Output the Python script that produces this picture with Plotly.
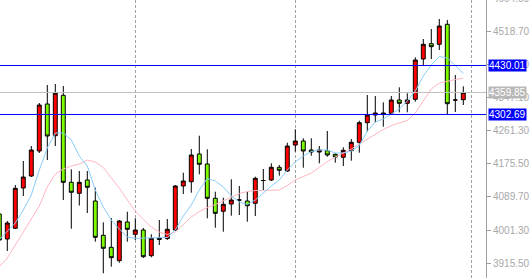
import plotly.graph_objects as go

# ---- data (prices) ----
bars = list(range(59))
opens = [4043.9, 3978.9, 4006.7, 4111.5, 4142.7, 4207.7, 4329.9, 4247.5, 4352.5, 4126.3,
         4097.7, 4132.3, 4077.7, 3988.5, 3957.3, 3922.5, 4023.1, 3991.1, 4002.3, 3935.5,
         3977.6, 3980.2, 4002.3, 4116.7, 4127.9, 4199.9, 4173.9, 4084.7, 4051.0, 4069.9,
         4080.3, 4077.7, 4071.7, 4131.0, 4132.3, 4165.3, 4155.7, 4223.3, 4233.7, 4210.3,
         4205.1, 4208.5, 4199.1, 4191.3, 4208.5, 4230.3, 4281.3, 4301.3, 4302.6, 4305.7,
         4340.3, 4331.7, 4342.1, 4446.9, 4486.7, 4485.1, 4537.1, 4340.3, 4341.1]
highs = [4049.1, 4025.7, 4119.3, 4181.7, 4220.7, 4332.5, 4379.3, 4381.9, 4376.7, 4160.1,
         4155.7, 4155.7, 4112.3, 4022.3, 4033.5, 4028.3, 4049.9, 4032.7, 4007.5, 3991.1,
         4028.3, 4030.9, 4119.3, 4151.3, 4212.9, 4247.5, 4212.1, 4101.9, 4086.3, 4134.1,
         4116.7, 4101.1, 4140.9, 4160.9, 4175.7, 4171.3, 4229.3, 4264.1, 4240.7, 4240.7,
         4220.7, 4259.7, 4201.7, 4217.3, 4238.9, 4286.5, 4353.3, 4350.7, 4334.3, 4350.7,
         4373.3, 4357.7, 4451.3, 4498.9, 4524.9, 4550.9, 4548.3, 4405.3, 4375.9]
lows = [3971.1, 3947.7, 4004.9, 4090.7, 4140.1, 4202.5, 4184.3, 4220.7, 4080.3, 4005.7,
        4066.0, 4046.5, 3971.9, 3889.7, 3906.9, 3917.3, 3971.9, 3976.3, 3929.5, 3931.3,
        3963.3, 3976.3, 3999.7, 4095.9, 4099.3, 4147.1, 4032.7, 4008.3, 3997.9, 4039.5,
        4041.3, 4023.9, 4038.7, 4106.3, 4129.7, 4143.5, 4153.1, 4205.9, 4164.3, 4195.5,
        4175.7, 4192.9, 4177.3, 4168.7, 4182.5, 4203.3, 4257.9, 4282.3, 4270.9, 4301.3,
        4308.3, 4308.3, 4335.9, 4431.3, 4446.9, 4470.3, 4303.9, 4309.1, 4327.3]
closes = [3976.3, 4020.5, 4110.7, 4140.1, 4210.3, 4327.3, 4246.7, 4357.7, 4126.3, 4100.3,
          4126.3, 4113.3, 3983.3, 3954.7, 3930.3, 4025.7, 4004.1, 4002.3, 3932.9, 3980.7,
          3981.5, 4004.1, 4116.7, 4129.7, 4197.3, 4173.1, 4084.7, 4045.7, 4069.1, 4080.3,
          4080.3, 4065.5, 4136.7, 4131.0, 4165.3, 4157.5, 4220.7, 4233.7, 4207.7, 4205.1,
          4210.3, 4197.3, 4192.1, 4209.5, 4230.3, 4281.3, 4301.3, 4306.5, 4306.5, 4340.3,
          4331.7, 4340.3, 4444.3, 4485.1, 4478.9, 4532.7, 4330.7, 4340.3, 4359.85]
ma_fast = [3977.6, 3999.7, 4020.5, 4054.3, 4093.3, 4158.3, 4215.5, 4254.5, 4254.5, 4236.3,
           4194.7, 4168.7, 4106.3, 4062.1, 4028.3, 4004.9, 3984.1, 3980.7, 3981.5, 3981.5,
           3981.5, 3982.8, 4002.3, 4038.7, 4067.3, 4106.3, 4136.2, 4129.7, 4114.1, 4090.7,
           4075.1, 4068.6, 4080.3, 4098.5, 4116.7, 4132.3, 4158.3, 4179.1, 4194.7, 4206.4,
           4210.3, 4210.3, 4202.5, 4202.5, 4207.7, 4222.0, 4259.7, 4283.1, 4290.9, 4303.9,
           4316.9, 4337.7, 4363.7, 4402.7, 4431.3, 4453.4, 4449.5, 4430.0, 4409.2]
ma_slow = [3906.9, 3929.5, 3963.3, 3997.1, 4030.9, 4064.7, 4114.1, 4147.9, 4160.9, 4168.7,
           4173.9, 4184.3, 4179.1, 4164.8, 4137.5, 4111.5, 4080.3, 4051.7, 4029.6, 4010.1,
           3997.1, 3990.6, 3997.1, 4017.9, 4036.1, 4050.4, 4060.8, 4068.6, 4077.7, 4088.1,
           4097.2, 4102.4, 4105.0, 4105.0, 4105.0, 4106.3, 4118.0, 4132.3, 4141.4, 4150.5,
           4164.8, 4180.4, 4192.1, 4202.5, 4212.9, 4225.9, 4238.9, 4250.6, 4263.6, 4274.0,
           4280.5, 4287.0, 4306.5, 4337.7, 4368.9, 4384.5, 4389.7, 4393.6, 4396.7]
tick_vals = [4518.70, 4432.90, 4347.10, 4261.30, 4175.50, 4089.70, 4001.30, 3915.50]
tick_text = ["4518.70", "4432.90", "4347.10", "4261.30", "4175.50", "4089.70", "4001.30", "3915.50"]
top_tick_val = 4604.50
top_tick_text = "4604.50"
level_prices = [4430.01, 4302.69]
level_text = ["4430.01", "4302.69"]
bid_price = 4359.85
bid_text = "4359.85"
grid_bars = [17, 37, 59]

Y_RANGE = [3877.5, 4600.3]
X_RANGE = [0.0875, 60.8375]

AX_GRAY = "#a0a0a0"
LABEL_GRAY = "#a8a8a8"
FONT = "Liberation Sans"

fig = go.Figure()
fig.add_trace(go.Candlestick(
    x=bars, open=opens, high=highs, low=lows, close=closes,
    increasing=dict(fillcolor="#ff0000", line=dict(color="#000000", width=1)),
    decreasing=dict(fillcolor="#7cfc00", line=dict(color="#000000", width=1)),
    whiskerwidth=0, hoverinfo="skip", showlegend=False,
))
fig.add_trace(go.Scatter(x=bars, y=ma_slow, mode="lines",
                         line=dict(color="#ffb6c1", width=1), hoverinfo="skip", showlegend=False))
fig.add_trace(go.Scatter(x=bars, y=ma_fast, mode="lines",
                         line=dict(color="#87cefa", width=1), hoverinfo="skip", showlegend=False))

shapes = []
for p in level_prices:
    shapes.append(dict(type="line", xref="paper", x0=0, x1=1, yref="y", y0=p, y1=p,
                       line=dict(color="#0000ff", width=1), layer="above"))
shapes.append(dict(type="line", xref="paper", x0=0, x1=1, yref="y", y0=bid_price, y1=bid_price,
                   line=dict(color="#c0c0c0", width=1), layer="above"))

annotations = []
for p, t in zip(level_prices, level_text):
    annotations.append(dict(x=1, xref="paper", xanchor="left", xshift=2, y=p, yref="y",
                            text=t, showarrow=False, bgcolor="#0000ff", borderpad=0,
                            font=dict(color="#ffffff", size=10, family=FONT)))
annotations.append(dict(x=1, xref="paper", xanchor="left", xshift=2, y=bid_price, yref="y",
                        text=bid_text, showarrow=False, bgcolor="#b8b8b8", borderpad=0,
                        font=dict(color="#ffffff", size=10, family=FONT)))
top_frac = (top_tick_val - Y_RANGE[0]) / (Y_RANGE[1] - Y_RANGE[0])
annotations.append(dict(x=1, xref="paper", xanchor="left", xshift=5, y=top_frac, yref="paper",
                        yanchor="middle", text=top_tick_text, showarrow=False,
                        font=dict(color=LABEL_GRAY, size=10, family=FONT)))

fig.update_layout(
    width=532, height=278,
    margin=dict(l=0, r=46, t=0, b=0),
    paper_bgcolor="#ffffff", plot_bgcolor="#ffffff",
    showlegend=False, boxgap=0.3,
    shapes=shapes, annotations=annotations,
    xaxis=dict(range=X_RANGE, tickvals=grid_bars, showticklabels=False, ticks="",
               showgrid=True, gridcolor=AX_GRAY, griddash="3px,2px", gridwidth=1,
               zeroline=False, showline=False, rangeslider=dict(visible=False), fixedrange=True),
    yaxis=dict(range=Y_RANGE, side="right", tickvals=tick_vals, ticktext=tick_text,
               showgrid=False, zeroline=False, showline=True, linecolor=AX_GRAY, linewidth=1,
               ticks="outside", ticklen=4, tickcolor=AX_GRAY,
               tickfont=dict(size=10, color=LABEL_GRAY, family=FONT), fixedrange=True),
)

fig.write_html("out.html")
